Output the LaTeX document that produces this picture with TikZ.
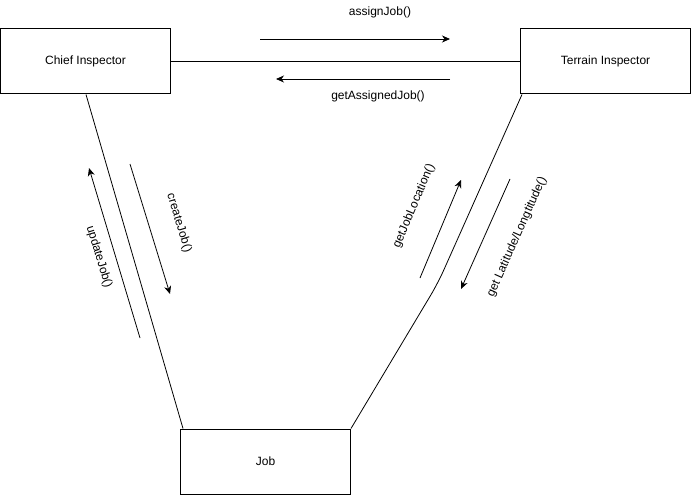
\documentclass[tikz,border=0pt]{standalone}
\usepackage{fontspec}
\setmainfont{Liberation Sans}
\usepackage{tikz}
\usetikzlibrary{arrows.meta,positioning,calc}

\begin{document}
\begin{tikzpicture}[
  x=1pt,y=-1pt,
  actor/.style={draw,line width=1pt,minimum width=170pt,minimum height=65pt,
                inner sep=0pt,font=\fontsize{12}{14}\selectfont},
  link/.style={line width=0.8pt},
  msg/.style={line width=0.8pt,-{Stealth[length=8pt,width=7pt,inset=2.5pt]}},
  lbl/.style={font=\fontsize{12}{14}\selectfont,inner sep=0pt}]
\useasboundingbox (0,0) rectangle (691,495);
% the three parties
\node[actor] (chief) at (85.5,61.5) {Chief Inspector};
\node[actor] (terrain) at (605.5,61.5) {Terrain Inspector};
\node[actor] (job) at (265.5,461.5) {Job};
% associations
\coordinate (cj) at ($(chief.south west)+(86,0)$);
\coordinate (jc) at ($(job.north west)+(3,0)$);
\coordinate (tj) at ($(terrain.south west)+(2,0)$);
\coordinate (bend) at (438,283);
\draw[link] (chief.east) -- (terrain.west);
\draw[link] (cj) -- (jc);
\draw[link,rounded corners=14pt] (tj) -- (bend) -- (job.north east);
% messages chief <-> terrain
\coordinate (a1) at (260,39); \coordinate (a2) at (450,39);
\coordinate (g1) at (450,79); \coordinate (g2) at (276,79);
\draw[msg] (a1) -- (a2);
\draw[msg] (g1) -- (g2);
\node[lbl] (assign) at (380,12) {assignJob()};
\node[lbl] (getassigned) at (378,96) {getAssignedJob()};
% messages chief <-> job
\coordinate (c1) at (130,164); \coordinate (c2) at (170,294);
\coordinate (u1) at (140,338); \coordinate (u2) at (89,168);
\draw[msg] (c1) -- (c2);
\draw[msg] (u1) -- (u2);
\node[lbl,rotate=-73] (create) at (179,223) {createJob()};
\node[lbl,rotate=-73] (update) at (99,257) {updateJob()};
% messages terrain <-> job
\coordinate (l1) at (420,278); \coordinate (l2) at (461,180);
\coordinate (t1) at (510,179); \coordinate (t2) at (461,289);
\draw[msg] (l1) -- (l2);
\draw[msg] (t1) -- (t2);
\node[lbl,rotate=67] (location) at (414,206) {getJobLocation()};
\node[lbl,rotate=66] (latlong) at (517,237) {get Latitude/Longtitude()};
\end{tikzpicture}
\end{document}
